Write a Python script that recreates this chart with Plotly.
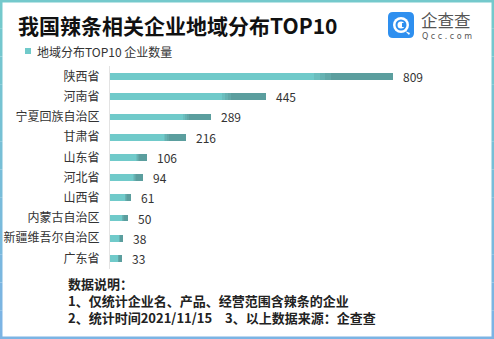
import plotly.graph_objects as go

categories = ["陕西省", "河南省", "宁夏回族自治区", "甘肃省", "山东省", "河北省",
              "山西省", "内蒙古自治区", "新疆维吾尔自治区", "广东省"]
values = [809, 445, 289, 216, 106, 94, 61, 50, 38, 33]
series_name = "地域分布TOP10 企业数量"
title_text = "我国辣条相关企业地域分布TOP10"
notes = ["数据说明：",
         "1、仅统计企业名、产品、经营范围含辣条的企业",
         "2、统计时间2021/11/15　3、以上数据来源：企查查"]

W, H = 494, 339
L, R, T, B = 110, 34, 66, 70
PW, PH = W - L - R, H - T - B
FONT = "Noto Sans CJK SC, Microsoft YaHei, sans-serif"


def px(x):
    return (x - L) / PW


def py(y):
    return (H - B - y) / PH


# gradient approximation: stacked segments (fractions of each bar)
seg_fracs = [0.72, 0.02, 0.02, 0.02, 0.22]
seg_colors = ["#70CACA", "#6BBEBE", "#66B2B2", "#61A8A8", "#5B9E9E"]

fig = go.Figure()
for f, c in zip(seg_fracs, seg_colors):
    fig.add_trace(go.Bar(
        y=categories, x=[v * f for v in values], orientation="h",
        marker=dict(color=c, line=dict(width=0)), width=0.34,
        showlegend=False, hoverinfo="skip"))

annotations = []
for cat, v in zip(categories, values):
    annotations.append(dict(x=v, y=cat, xref="x", yref="y", text=str(v),
                            showarrow=False, xanchor="left", xshift=8,
                            font=dict(size=12, color="#333333", family=FONT)))

annotations.append(dict(x=px(16), y=py(25), xref="paper", yref="paper", text="<b>" + title_text + "</b>",
                        showarrow=False, xanchor="left", yanchor="middle",
                        font=dict(size=21, color="#111111", family=FONT)))
annotations.append(dict(x=px(35), y=py(51), xref="paper", yref="paper", text=series_name,
                        showarrow=False, xanchor="left", yanchor="middle",
                        font=dict(size=12, color="#333333", family=FONT)))
annotations.append(dict(x=px(66), y=py(272), xref="paper", yref="paper",
                        text="<br>".join("<b>" + s + "</b>" for s in notes),
                        showarrow=False, xanchor="left", yanchor="top", align="left",
                        font=dict(size=13, color="#222222", family=FONT)))
# logo text
annotations.append(dict(x=px(419), y=py(19.5), xref="paper", yref="paper", text="企查查",
                        showarrow=False, xanchor="left", yanchor="middle",
                        font=dict(size=16.5, color="#555555", family=FONT)))
annotations.append(dict(x=px(420), y=py(36.5), xref="paper", yref="paper", text="Q c c . c o m",
                        showarrow=False, xanchor="left", yanchor="middle",
                        font=dict(size=8, color="#555555", family="DejaVu Sans")))

shapes = []
# legend swatch
shapes.append(dict(type="rect", xref="paper", yref="paper", x0=px(25), x1=px(31), y0=py(54), y1=py(48),
                   fillcolor="#70CACA", line=dict(width=0)))


def conv_path(x0, x1, y0, y1, r):
    def P(x, y):
        return f"{px(x)},{py(y)}"
    return (f"M {P(x0+r,y0)} L {P(x1-r,y0)} Q {P(x1,y0)} {P(x1,y0+r)} L {P(x1,y1-r)} Q {P(x1,y1)} {P(x1-r,y1)} "
            f"L {P(x0+r,y1)} Q {P(x0,y1)} {P(x0,y1-r)} L {P(x0,y0+r)} Q {P(x0,y0)} {P(x0+r,y0)} Z")


# logo icon
shapes.append(dict(type="path", xref="paper", yref="paper", path=conv_path(388, 414, 12, 38, 5),
                   fillcolor="#2E8FEF", line=dict(width=0)))
shapes.append(dict(type="circle", xref="paper", yref="paper", x0=px(393), x1=px(409), y0=py(33), y1=py(17),
                   fillcolor="#FFFFFF", line=dict(width=0)))
shapes.append(dict(type="circle", xref="paper", yref="paper", x0=px(395.5), x1=px(406.5), y0=py(30.5), y1=py(19.5),
                   fillcolor="#2E8FEF", line=dict(width=0)))
shapes.append(dict(type="circle", xref="paper", yref="paper", x0=px(397.5), x1=px(404.5), y0=py(28.5), y1=py(21.5),
                   fillcolor="#FFFFFF", line=dict(width=0)))
shapes.append(dict(type="rect", xref="paper", yref="paper", x0=px(402), x1=px(406), y0=py(27), y1=py(23),
                   fillcolor="#2E8FEF", line=dict(width=0)))
shapes.append(dict(type="path", xref="paper", yref="paper",
                   path=f"M {px(405)},{py(31)} L {px(409)},{py(35)} L {px(410)},{py(33)} Z",
                   fillcolor="#FFFFFF", line=dict(width=0)))

# frame border with vertical gradient teal -> blue
top_c = (0x74, 0xC9, 0xCC)
bot_c = (0x7C, 0xB4, 0xE4)
n = 12
for i in range(n):
    t = i / (n - 1)
    c = tuple(int(top_c[k] + (bot_c[k] - top_c[k]) * t) for k in range(3))
    col = "rgb(%d,%d,%d)" % c
    ya, yb = H * i / n, H * (i + 1) / n
    shapes.append(dict(type="rect", xref="paper", yref="paper", x0=px(0), x1=px(2.5), y0=py(yb), y1=py(ya),
                       fillcolor=col, line=dict(width=0), layer="above"))
    shapes.append(dict(type="rect", xref="paper", yref="paper", x0=px(W - 2.5), x1=px(W), y0=py(yb), y1=py(ya),
                       fillcolor=col, line=dict(width=0), layer="above"))
shapes.append(dict(type="rect", xref="paper", yref="paper", x0=px(0), x1=px(W), y0=py(2.5), y1=py(0),
                   fillcolor="rgb(%d,%d,%d)" % top_c, line=dict(width=0), layer="above"))
shapes.append(dict(type="rect", xref="paper", yref="paper", x0=px(0), x1=px(W), y0=py(H), y1=py(H - 2.5),
                   fillcolor="rgb(%d,%d,%d)" % bot_c, line=dict(width=0), layer="above"))

fig.update_layout(
    width=W, height=H, barmode="stack",
    margin=dict(l=L, r=R, t=T, b=B, pad=0, autoexpand=False),
    paper_bgcolor="white", plot_bgcolor="white",
    xaxis=dict(range=[0, PW / 0.35], showgrid=False, zeroline=False, showticklabels=False,
               showline=False, fixedrange=True, automargin=False),
    yaxis=dict(autorange="reversed", showgrid=False, zeroline=False, showline=True,
               linecolor="#E3E3E3", linewidth=1, ticks="outside", ticklen=7, tickcolor="white",
               automargin=False,
               tickfont=dict(size=12, color="#333333", family=FONT)),
    annotations=annotations, shapes=shapes, showlegend=False,
)

fig.write_html("out.html")
